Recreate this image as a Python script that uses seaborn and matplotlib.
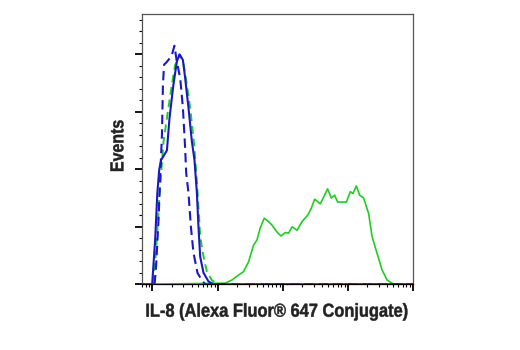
import numpy as np
import pandas as pd
import matplotlib
matplotlib.use("Agg")
import matplotlib.pyplot as plt
import seaborn as sns
from matplotlib.ticker import LogLocator, MultipleLocator, NullFormatter
from matplotlib.patheffects import AbstractPathEffect
from matplotlib.transforms import Affine2D

# ---- data (fluorescence intensity, relative event counts) ----
blue_solid_x = [0.68, 0.99, 1.10, 1.19, 1.27, 1.36, 1.67, 1.83, 2.10, 2.37, 2.60, 2.94, 3.18,
                3.58, 4.04, 4.43, 4.82, 5.10, 5.42, 6.09, 7.27, 8.68, 10000]
blue_solid_y = [0, 0, 0.77, 1.59, 1.99, 2.16, 2.33, 2.89, 3.47, 3.87, 4.00, 3.90, 3.59,
                3.07, 2.48, 2.16, 1.59, 1.00, 0.48, 0.20, 0.05, 0, 0]

green_dash_x = [0.68, 1.03, 1.14, 1.27, 1.48, 1.74, 1.99, 2.23, 2.67, 2.97, 3.30, 3.80, 4.38,
                4.87, 5.42, 6.03, 6.87, 8.20, 10.3, 10000]
green_dash_y = [0, 0, 0.60, 1.47, 2.48, 3.03, 3.47, 3.81, 3.99, 3.87, 3.55, 3.07, 2.42,
                1.72, 0.83, 0.51, 0.22, 0.07, 0, 0]

blue_dash_x = [1.08, 1.14, 1.24, 1.31, 1.40, 1.45, 1.51, 1.67, 1.81, 1.99, 2.18, 2.37, 2.67,
               2.94, 3.18, 3.30, 3.58, 3.90, 4.27, 4.92, 5.75, 6.47, 10000]
blue_dash_y = [0, 0.33, 1.12, 1.81, 2.60, 3.47, 3.82, 3.87, 3.92, 3.99, 4.15, 3.87, 3.59,
               3.07, 2.37, 1.94, 1.59, 1.00, 0.55, 0.20, 0.07, 0, 0]

green_solid_x = [0.68, 13.1, 16.7, 21.0, 25.1, 30.0, 35.8, 40.4, 45.4, 52.3, 60.9, 68.7, 82.0,
                 94.4, 110, 124, 140, 167, 199, 246, 276, 311, 380, 443, 492, 561, 631,
                 702, 955, 1101, 1211, 1361, 1531, 1762, 2104, 2373, 2831, 3381, 4038,
                 5101, 10000]
green_solid_y = [0, 0.02, 0.075, 0.16, 0.22, 0.39, 0.68, 0.77, 0.98, 1.15, 1.09, 1.03, 0.91,
                 0.84, 0.90, 0.89, 1.00, 0.94, 1.09, 1.21, 1.32, 1.48, 1.40, 1.55, 1.66,
                 1.50, 1.55, 1.43, 1.43, 1.61, 1.58, 1.71, 1.55, 1.50, 1.23, 0.83, 0.54,
                 0.25, 0.075, 0, 0]

x_label = "IL-8 (Alexa Fluor\u00ae 647 Conjugate)"
y_label = "Events"

BLUE = "#1818c8"
GREEN = "#22cc22"


class Condense(AbstractPathEffect):
    """Draw text narrower along one display axis, about a fixed centre."""
    def __init__(self, factor, center, axis="x"):
        super().__init__()
        self.factor = factor
        self.center = center
        self.axis = axis

    def draw_path(self, renderer, gc, tpath, affine, rgbFace=None):
        c = self.center
        if self.axis == "x":
            extra = Affine2D().translate(-c, 0).scale(self.factor, 1).translate(c, 0)
        else:
            extra = Affine2D().translate(0, -c).scale(1, self.factor).translate(0, c)
        gc0 = renderer.new_gc()
        gc0.copy_properties(gc)
        gc0.set_linewidth(0.35)
        gc0.set_foreground(rgbFace)
        renderer.draw_path(gc0, tpath, affine + extra, rgbFace)
        gc0.restore()


sns.set_style("ticks")
plt.rcParams['font.family'] = ['Liberation Sans', 'DejaVu Sans']

W, H = 520, 350
fig = plt.figure(figsize=(W / 100, H / 100), dpi=100)
ax_l, ax_r, ax_t, ax_b = 141.7, 412.7, 14.3, 284.3
ax = fig.add_axes([ax_l / W, 1 - ax_b / H, (ax_r - ax_l) / W, (ax_b - ax_t) / H])

def draw(x, y, color, lw, dashes=None, z=2):
    df = pd.DataFrame({"x": x, "y": y})
    sns.lineplot(data=df, x="x", y="y", ax=ax, color=color, lw=lw,
                 sort=False, estimator=None, zorder=z)
    line = ax.lines[-1]
    if dashes is not None:
        line.set_dashes(dashes)

draw(green_solid_x, green_solid_y, GREEN, 1.2, z=2)
draw(green_dash_x, green_dash_y, GREEN, 1.4, dashes=(4, 2.5), z=3)
draw(blue_dash_x, blue_dash_y, BLUE, 1.5, dashes=(4.5, 2.5), z=4)
draw(blue_solid_x, blue_solid_y, BLUE, 1.5, z=5)

ax.set_xscale("log")
ax.set_xlim(10 ** (-0.165), 10 ** 4.0)
ax.set_ylim(0, 4.696)

ax.xaxis.set_major_locator(LogLocator(base=10, numticks=10))
ax.xaxis.set_minor_locator(LogLocator(base=10, subs=np.arange(1, 10) * 0.1, numticks=20))
ax.xaxis.set_major_formatter(NullFormatter())
ax.xaxis.set_minor_formatter(NullFormatter())
ax.yaxis.set_major_locator(MultipleLocator(1))
ax.yaxis.set_minor_locator(MultipleLocator(0.2))
ax.yaxis.set_major_formatter(NullFormatter())

ax.tick_params(axis="both", which="major", direction="out", length=5, width=1.3, color="black")
ax.tick_params(axis="both", which="minor", direction="out", length=2.3, width=0.8, color="black")

for side in ["top", "right", "left", "bottom"]:
    ax.spines[side].set_visible(True)
    ax.spines[side].set_linewidth(0.9)
    ax.spines[side].set_color("#555555")
ax.spines["bottom"].set_color("black")

xl_cx = 276.5
yl_cy = 146.0
ax.set_xlabel(x_label, fontsize=13.5, fontweight="bold", color="#222222",
              path_effects=[Condense(0.875, xl_cx, "x")])
ax.set_ylabel(y_label, fontsize=13.5, fontweight="bold", color="#222222",
              path_effects=[Condense(0.85, H - yl_cy, "y")])
ax.xaxis.label.set_verticalalignment("baseline")
ax.yaxis.label.set_verticalalignment("baseline")
ax.xaxis.set_label_coords((xl_cx - ax_l) / (ax_r - ax_l), (ax_b - 316.7) / (ax_b - ax_t))
ax.yaxis.set_label_coords((123.3 - ax_l) / (ax_r - ax_l), (ax_b - yl_cy) / (ax_b - ax_t))

fig.savefig("out.png", dpi=100)
